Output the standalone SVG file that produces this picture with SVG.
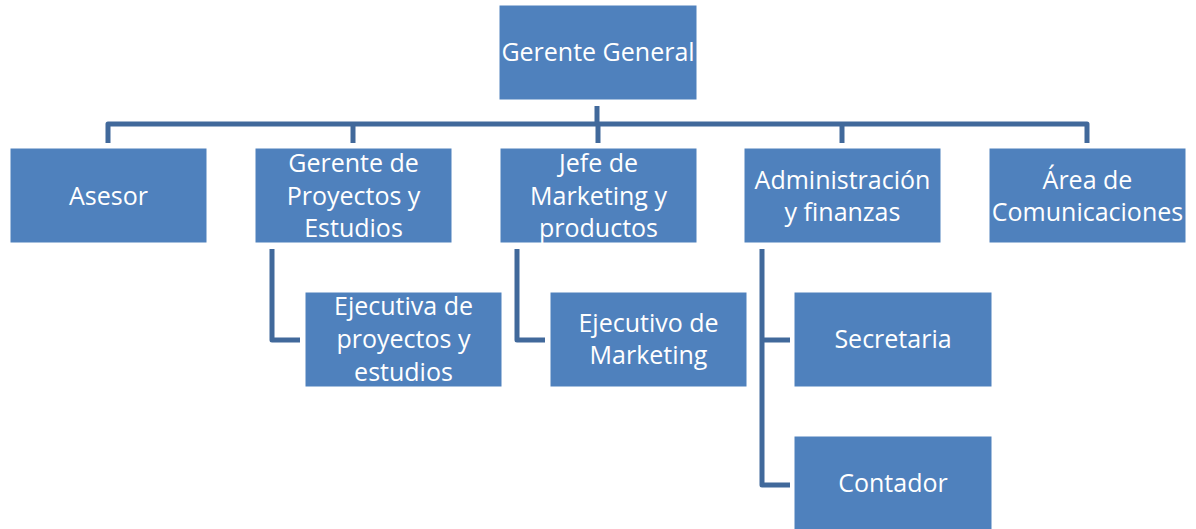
<svg xmlns="http://www.w3.org/2000/svg" width="1196" height="529" viewBox="0 0 1196 529">
<style>
.box{fill:#4F81BD;stroke:#ffffff;stroke-width:1}
.t{fill:#ffffff;font-family:"Open Sans","Liberation Sans",sans-serif;font-size:25px;text-anchor:middle}
.c{fill:none;stroke:#41699B;stroke-width:5;stroke-linejoin:round}
</style>
<rect width="1196" height="529" fill="#ffffff"/>
<g id="connectors">
<path class="c" d="M597,106 V124"/>
<path class="c" d="M108,143 V124 H1087 V143"/>
<path class="c" d="M353,124 V143"/>
<path class="c" d="M598,124 V143"/>
<path class="c" d="M842,124 V143"/>
<path class="c" d="M272,249 V340 H300"/>
<path class="c" d="M517,249 V340 H545"/>
<path class="c" d="M762,249 V485 H790"/>
<path class="c" d="M762,340 H790"/>
</g>
<g id="gerente-general"><rect class="box" x="499" y="5" width="198" height="95"/><text class="t" x="598" y="61">Gerente General</text></g>
<g id="asesor"><rect class="box" x="10" y="148" width="197" height="95"/><text class="t" x="108.5" y="205">Asesor</text></g>
<g id="gerente-proyectos"><rect class="box" x="255" y="148" width="197" height="95"/><text class="t" x="353.5" y="172">Gerente de</text><text class="t" x="353.5" y="205">Proyectos y</text><text class="t" x="353.5" y="237">Estudios</text></g>
<g id="jefe-marketing"><rect class="box" x="500" y="148" width="197" height="95"/><text class="t" x="598.5" y="172">Jefe de</text><text class="t" x="598.5" y="205">Marketing y</text><text class="t" x="598.5" y="237">productos</text></g>
<g id="administracion"><rect class="box" x="744" y="148" width="197" height="95"/><text class="t" x="842.5" y="189">Administración</text><text class="t" x="842.5" y="221">y finanzas</text></g>
<g id="comunicaciones"><rect class="box" x="989" y="148" width="197" height="95"/><text class="t" x="1087.5" y="189">Área de</text><text class="t" x="1087.5" y="221">Comunicaciones</text></g>
<g id="ejecutiva-proyectos"><rect class="box" x="305" y="292" width="197" height="95"/><text class="t" x="403.5" y="315">Ejecutiva de</text><text class="t" x="403.5" y="348">proyectos y</text><text class="t" x="403.5" y="381">estudios</text></g>
<g id="ejecutivo-marketing"><rect class="box" x="550" y="292" width="197" height="95"/><text class="t" x="648.5" y="332">Ejecutivo de</text><text class="t" x="648.5" y="364">Marketing</text></g>
<g id="secretaria"><rect class="box" x="794" y="292" width="198" height="95"/><text class="t" x="893" y="348">Secretaria</text></g>
<g id="contador"><rect class="box" x="794" y="436" width="198" height="95"/><text class="t" x="893" y="492">Contador</text></g>
</svg>
